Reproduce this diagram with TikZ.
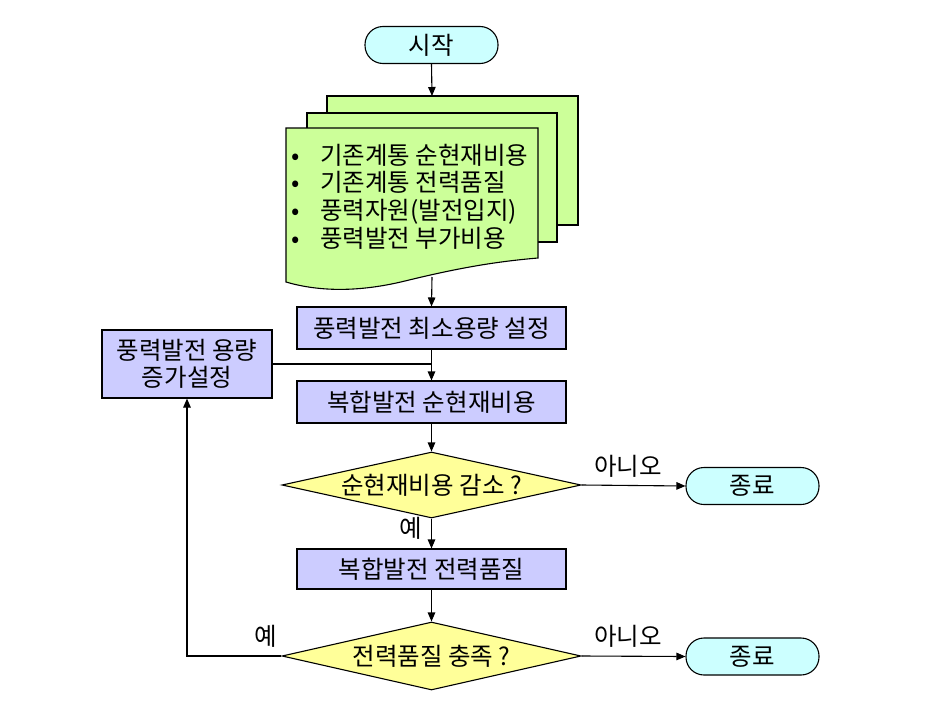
\documentclass[tikz,border=0pt]{standalone}
\usepackage{fontspec}
\setmainfont{Noto Sans CJK KR}
\usetikzlibrary{arrows.meta,shapes.geometric}
\definecolor{termfill}{HTML}{CCFFFF}
\definecolor{docfill}{HTML}{CCFF99}
\definecolor{boxfill}{HTML}{CCCCFF}
\definecolor{decfill}{HTML}{FFFF99}
\tikzset{
  base/.style={draw=black, line width=1.1pt, font=\fontsize{24.5}{27}\selectfont, inner sep=0pt},
  terminal/.style={base, fill=termfill, rectangle, rounded corners=18pt, minimum width=133pt, minimum height=37pt},
  procbox/.style={base, fill=boxfill, rectangle, minimum width=269pt, minimum height=41pt},
  decision/.style={base, fill=decfill, diamond, minimum width=299pt, minimum height=66pt},
  flowarrow/.style={line width=1.1pt, -{Triangle[length=9pt,width=7.5pt]}},
  flowline/.style={line width=1.1pt},
  lbl/.style={font=\fontsize{24.5}{27}\selectfont, inner sep=0pt},
  page/.style={draw=black, line width=1.1pt, fill=docfill}
}
\begin{document}
\begin{tikzpicture}[x=1pt,y=-1pt]
\path[use as bounding box, fill=white] (0,0) rectangle (929,712);

% start
\node[terminal] (start) at (431.5,45) {시작};

% document stack
\draw[page] (327,96) rectangle (578,225);
\draw[page] (307,113) rectangle (557,242);
\draw[page] (286,128) -- (538,128) -- (538,258)
  .. controls (490,262) and (450,270) .. (405,281)
  .. controls (360,292) and (320,292) .. (286,282) -- cycle;
\coordinate (doctop) at (432,96);
\coordinate (docbot) at (432,277);
\node[lbl, anchor=west, align=left, font=\fontsize{24.5}{27.7}\selectfont] (doctext) at (291,196.5)
  {\makebox[29pt][l]{•}기존계통 순현재비용\\
   \makebox[29pt][l]{•}기존계통 전력품질\\
   \makebox[29pt][l]{•}풍력자원(발전입지)\\
   \makebox[29pt][l]{•}풍력발전 부가비용};

% process boxes
\node[procbox, minimum height=42pt] (box1) at (431.5,328) {풍력발전 최소용량 설정};
\node[procbox, minimum width=170pt, minimum height=68pt, align=center, font=\fontsize{24.5}{26.5}\selectfont] (inc) at (187,364) {풍력발전 용량\\증가설정};
\node[procbox, minimum height=42pt] (box2) at (431.5,402) {복합발전 순현재비용};
\node[decision, label={[lbl]center:순현재비용 감소 ?}] (d1) at (431.5,485) {};
\node[terminal] (end1) at (752.5,486) {종료};
\node[procbox, minimum height=40pt] (box3) at (431.5,569) {복합발전 전력품질};
\node[decision, minimum height=68pt, label={[lbl]center:전력품질 충족 ?}] (d2) at (431.5,656) {};
\node[terminal] (end2) at (752.5,656.5) {종료};

% connectors
\draw[flowarrow] (start.south) -- (doctop);
\draw[flowarrow] (docbot) -- (box1.north);
\draw[flowarrow] (box1.south) -- (box2.north);
\draw[flowline] (inc.east) -- (inc.east -| box2.north);
\draw[flowarrow] (box2.south) -- (d1.north);
\draw[flowarrow] (d1.east) -- (end1.west);
\draw[flowarrow] (d1.south) -- (box3.north);
\draw[flowarrow] (box3.south) -- (d2.north);
\draw[flowarrow] (d2.east) -- (end2.west);
\draw[flowarrow] (d2.west) -| (inc.south);

% labels
\node[lbl] (no1) at (628,466) {아니오};
\node[lbl] (yes1) at (411,528) {예};
\node[lbl] (no2) at (628,636) {아니오};
\node[lbl] (yes2) at (266,636) {예};
\end{tikzpicture}
\end{document}
